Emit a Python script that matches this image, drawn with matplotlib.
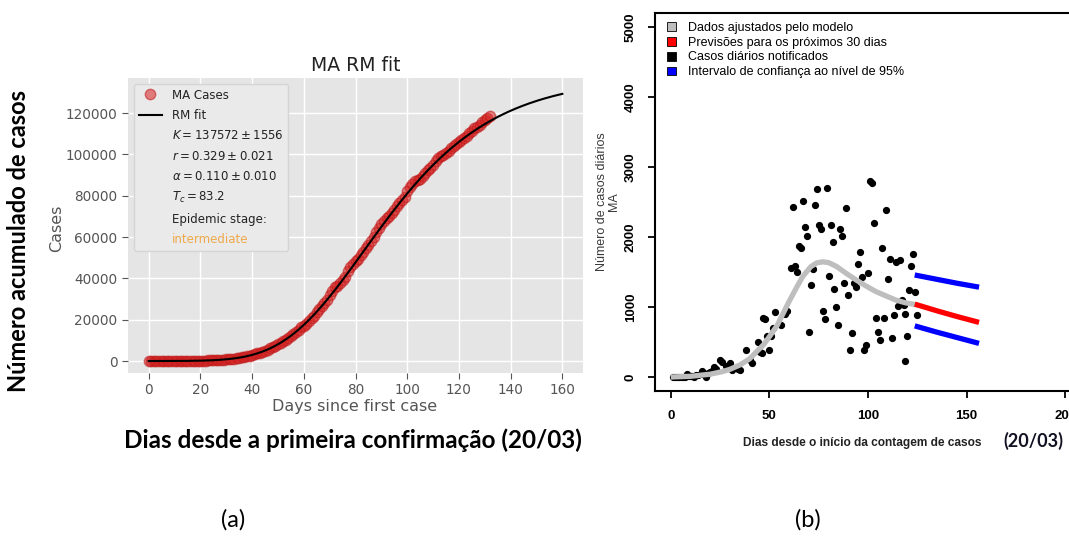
import numpy as np
import matplotlib
matplotlib.use("Agg")
import matplotlib.pyplot as plt
from matplotlib.lines import Line2D
from matplotlib.patches import Patch

# ---- panel (a): cumulative cases, MA ----
ma_days = list(range(0, 133))
ma_cumulative = [
    1, 2, 2, 4, 7, 9, 12, 15, 18, 22,
    27, 35, 45, 56, 68, 82, 98, 115, 135, 155,
    175, 210, 250, 290, 340, 390, 450, 520, 600, 700,
    831, 944, 1072, 1218, 1384, 1572, 1786, 2029, 2305, 2618,
    2970, 3303, 3673, 4085, 4543, 5060, 5558, 6105, 6706, 7366,
    8090, 8785, 9540, 10360, 11250, 12220, 13130, 14100, 15150, 16280,
    17000, 18100, 19200, 20600, 22000, 23860, 25240, 26670, 28140, 29640,
    32180, 34000, 35600, 36500, 37800, 39240, 40910, 43800, 45600, 47000,
    48300, 49430, 51160, 52900, 54640, 56390, 58130, 59860, 62600, 64500,
    66400, 67900, 69200, 70300, 71640, 73260, 74860, 76440, 78000, 79550,
    82400, 84300, 85900, 87100, 87700, 88310, 89670, 91010, 92320, 93620,
    94900, 96900, 98200, 99200, 99670, 100800, 101900, 102970, 104020, 105040,
    106040, 107010, 107950, 108870, 110500, 111500, 112600, 113500, 114300, 115500,
    116500, 117600, 118600,
]

# Richards model parameters (as reported in the legend)
K_fit, K_err = 137572, 1556
r_fit, r_err = 0.329, 0.021
a_fit, a_err = 0.110, 0.010
Tc_fit = 83.2

# ---- panel (b): daily cases, MA ----
daily_days = [
    1, 2, 3, 4, 5, 6, 7, 9, 10, 11, 13, 14, 16, 17, 19, 20, 21,
    8, 12, 16, 18, 22, 23, 25, 26, 28, 30, 31, 34, 35, 38, 40, 41, 44, 45, 46,
    47, 48, 50, 49, 51, 52, 53, 56, 58, 59, 61, 63, 64, 62, 65, 66, 67, 68, 69,
    70, 71, 72, 73, 74, 75, 76, 77, 78, 79, 80, 81, 82, 83, 84, 85, 86, 87, 88,
    89, 90, 91, 92, 93, 94, 95, 96, 97, 98, 99, 100, 101, 102, 103, 104, 105,
    106, 107, 108, 109, 110, 111, 112, 113, 114, 115, 116, 117, 118, 119, 119,
    120, 121, 122, 123, 124, 125,
]
daily_cases = [
    0, 0, 0, 2, 0, 3, 5, 10, 12, 20, 25, 30, 45, 40, 60, 70, 90,
    40, 0, 80, 5, 140, 120, 240, 210, 160, 200, 100, 120, 100, 390, 240, 200, 500, 360, 340,
    840, 830, 390, 580, 590, 700, 930, 750, 900, 940, 1560, 1580, 1500, 2430, 1870, 1840, 2510, 2140, 2020,
    650, 1320, 1550, 2460, 2680, 2170, 2120, 950, 830, 2700, 1440, 2170, 1930, 1260, 1000, 740, 2120, 2020, 1350,
    2410, 1170, 390, 630, 1340, 1290, 1610, 1780, 1430, 390, 460, 1480, 2800, 2770, 2200, 840, 650,
    530, 1840, 850, 2380, 1400, 1680, 560, 880, 1640, 1010, 1670, 1100, 1030, 900, 230,
    580, 1250, 1580, 1760, 1210, 880,
]

model_days = [0, 10, 20, 26, 30, 35, 40, 43.5, 47, 50, 54, 57, 60, 64, 67, 71, 74, 77,
              80, 84, 89, 94, 99, 104, 109, 114, 119, 125]
model_cases = [0, 10, 40, 76, 110, 171, 260, 362, 460, 576, 740, 910, 1080, 1290, 1440,
               1576, 1630, 1645, 1635, 1580, 1480, 1386, 1300, 1220, 1160, 1100, 1060, 1030]

forecast_days = [125, 135, 145, 155]
forecast_cases = [1030, 945, 865, 790]
ci_upper = [1450, 1395, 1340, 1290]
ci_lower = [720, 640, 565, 490]

W, H = 1069, 536
fig = plt.figure(figsize=(W / 100, H / 100), dpi=100)
fig.patch.set_facecolor("white")


def fx(x):
    return x / W


def fy(y):
    return 1 - y / H


# ---------------- left panel ----------------
ax1 = fig.add_axes([fx(128), fy(373), (583 - 128) / W, (373 - 78) / H])
ax1.set_facecolor("#E5E5E5")
for s in ax1.spines.values():
    s.set_visible(False)
ax1.grid(True, color="white", lw=1.0)
ax1.set_axisbelow(True)

t = np.linspace(0, 160, 400)
fit = K_fit * (1 + a_fit * np.exp(-r_fit * a_fit * (t - Tc_fit))) ** (-1 / a_fit)

ax1.plot(ma_days, ma_cumulative, "o", color="#d62020", alpha=0.55, ms=7.5,
         mec="#c01818", label="MA Cases", zorder=2)
ax1.plot(t, fit, color="black", lw=1.5, label="RM fit", zorder=3)

ax1.set_xlim(-8, 168)
ax1.set_ylim(-5800, 137000)
ax1.set_xticks(range(0, 161, 20))
ax1.set_yticks(range(0, 120001, 20000))
ax1.tick_params(colors="#555555", labelsize=9.8, length=4, width=0.8)
ax1.set_title("MA RM fit", fontsize=13.5, color="#222222", pad=5)
fig.text(fx(57), fy(228), "Cases", rotation=90, ha="center", va="center",
         fontsize=11.5, color="#555555")
fig.text(fx(355), fy(407), "Days since first case", ha="center", va="center",
         fontsize=11.5, color="#555555")

blank = Line2D([], [], linestyle="none")
h, l = ax1.get_legend_handles_labels()
extra = [
    rf"$K = {K_fit} \pm {K_err}$",
    rf"$r = {r_fit:.3f} \pm {r_err:.3f}$",
    rf"$\alpha = {a_fit:.3f} \pm {a_err:.3f}$",
    rf"$T_c = {Tc_fit}$",
    "Epidemic stage:",
    "intermediate",
]
leg = ax1.legend(h + [blank] * len(extra), l + extra, loc="upper left",
                 fontsize=8.5, facecolor="#EAEAEA", edgecolor="#D5D5D5",
                 framealpha=1, labelspacing=0.62, fancybox=True)
for txt in leg.get_texts():
    txt.set_color("#222222")
leg.get_texts()[-1].set_color("#efa94a")

fig.text(fx(19), fy(241), "Número acumulado de casos", rotation=90,
         ha="center", va="center", fontsize=17, fontweight="bold", family="Lato")
fig.text(fx(353), fy(440), "Dias desde a primeira confirmação (20/03)",
         ha="center", va="center", fontsize=17.5, fontweight="bold", family="Lato")
fig.text(fx(233), fy(520), "(a)", ha="center", va="center", fontsize=17, family="Lato")

# ---------------- right panel ----------------
ax2 = fig.add_axes([fx(655), fy(391), (1081 - 655) / W, (391 - 13) / H])
ax2.plot(daily_days, daily_cases, "o", color="black", ms=4.2, zorder=2)
ax2.plot(model_days, model_cases, color="#bebebe", lw=3.8, zorder=3,
         solid_capstyle="butt", solid_joinstyle="round")
ax2.plot(forecast_days, forecast_cases, color="#ff0000", lw=3.8, zorder=3)
ax2.plot(forecast_days, ci_upper, color="#0000ff", lw=3.8, zorder=3)
ax2.plot(forecast_days, ci_lower, color="#0000ff", lw=3.8, zorder=3)

ax2.set_xlim(-8, 208)
ax2.set_ylim(-200, 5200)
ax2.set_xticks(range(0, 201, 50))
ax2.set_yticks(range(0, 5001, 1000))
for s in ax2.spines.values():
    s.set_linewidth(1.5)
ax2.tick_params(direction="out", length=5, width=1.3, labelsize=9.5)
ax2.tick_params(axis="y", pad=8)
ax2.tick_params(axis="x", pad=9)
for lab in ax2.get_yticklabels():
    lab.set_rotation(90)
    lab.set_va("center")
    lab.set_fontweight("bold")
    lab.set_family("Liberation Sans")
for lab in ax2.get_xticklabels():
    lab.set_fontweight("bold")
    lab.set_family("Liberation Sans")

fig.text(fx(608), fy(202), "Número de casos diários\nMA", rotation=90,
         ha="center", va="center", multialignment="center", fontsize=9,
         color="#3a3a3a", family="Liberation Sans", linespacing=1.0)
fig.text(fx(743), fy(443), "Dias desde o início da contagem de casos",
         ha="left", va="center", fontsize=8.6, color="#222222",
         family="Liberation Sans", fontweight="bold")
fig.text(fx(1003), fy(441), "(20/03)", ha="left", va="center", fontsize=13,
         fontweight="bold", color="#111122", family="Lato")
fig.text(fx(808), fy(520), "(b)", ha="center", va="center", fontsize=17, family="Lato")

legend_items = [
    ("Dados ajustados pelo modelo", "#bebebe"),
    ("Previsões para os próximos 30 dias", "#ff0000"),
    ("Casos diários notificados", "#000000"),
    ("Intervalo de confiança ao nível de 95%", "#0000ff"),
]
handles = [Patch(facecolor=c, edgecolor="black", lw=0.6) for _, c in legend_items]
ax2.legend(handles, [n for n, _ in legend_items], loc="upper left",
           bbox_to_anchor=(fx(667), fy(22)), bbox_transform=fig.transFigure,
           frameon=False, borderpad=0, borderaxespad=0,
           handlelength=0.75, handleheight=0.7, handletextpad=0.9,
           labelspacing=0.22, prop={"family": "Liberation Sans", "size": 9})

fig.savefig("out.png", dpi=100)
